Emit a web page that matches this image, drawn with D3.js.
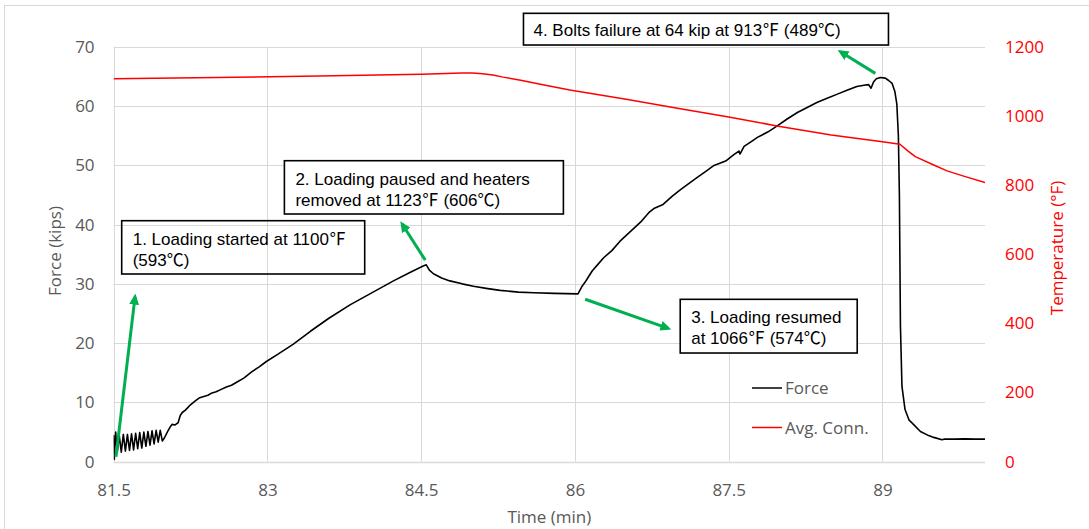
<!DOCTYPE html>
<html><head><meta charset="utf-8">
<script src="https://cdn.jsdelivr.net/npm/d3@7"></script>
<style>
html,body{margin:0;padding:0;background:#fff;}
svg{display:block;}
.tick-l,.ttl{font-family:"Open Sans","Noto Sans",sans-serif;}
.ann{font-family:"Liberation Sans",Arial,"Noto Sans CJK SC",sans-serif;font-size:17px;fill:#000;}
</style></head>
<body>
<svg id="chart" width="1089" height="529"></svg>
<script>
// ---- data ----
const forceTime = [81.500,81.507,81.520,81.535,81.555,81.575,81.595,81.615,81.635,81.655,81.675,81.695,81.715,81.735,81.755,81.775,81.795,81.815,81.835,81.855,81.875,81.895,81.915,81.935,81.955,81.975,81.995,
82.03,82.05,82.07,82.10,82.13,82.15,82.17,82.20,82.25,82.30,82.34,82.38,82.42,82.46,82.50,82.55,82.60,82.65,82.70,82.77,82.85,82.92,82.99,83.10,83.25,83.42,83.60,83.81,84.00,84.23,84.40,84.52,84.55,84.58,84.62,84.70,84.78,84.90,85.01,85.15,85.27,85.45,85.60,85.80,86.03,
86.07,86.10,86.14,86.17,86.22,86.28,86.36,86.44,86.54,86.64,86.72,86.77,86.86,86.95,87.03,87.11,87.19,87.27,87.35,87.47,87.55,87.60,87.61,87.65,87.72,87.78,87.88,87.97,88.07,88.17,88.27,88.36,88.46,88.56,88.66,88.75,88.82,88.865,88.888,88.914,88.94,88.979,89.028,89.06,89.094,89.12,89.14,89.155,89.165,89.175,89.19,89.22,89.26,89.29,89.37,89.45,89.50,89.58,89.60,89.70,89.80,89.90,90.00];
const forceKips = [4.5,0.4,5.0,1.5,4.4,1.6,4.6,1.8,4.6,1.9,4.7,2.0,4.8,2.2,4.9,2.3,5.0,2.6,5.1,2.8,5.2,3.0,5.3,3.3,5.3,3.5,4.0,
5.2,5.8,6.3,6.2,6.6,7.8,8.3,8.7,9.6,10.3,10.8,11.0,11.2,11.6,11.8,12.2,12.6,12.9,13.4,14.1,15.2,16.0,16.9,18.1,19.8,22.0,24.2,26.5,28.3,30.5,32.0,33.0,33.2,32.3,31.7,31.0,30.5,30.0,29.6,29.2,28.9,28.6,28.5,28.4,28.3,
29.6,30.3,31.4,32.2,33.2,34.4,35.6,37.2,38.8,40.4,42.0,42.7,43.4,44.8,45.9,46.9,47.9,48.9,49.9,50.7,51.8,52.4,51.9,53.2,54.0,54.7,55.6,56.6,57.8,58.9,59.8,60.6,61.3,62.0,62.7,63.3,63.5,63.6,63.0,64.1,64.6,64.8,64.7,64.3,63.8,62.5,60.3,55.0,45.0,23.0,12.7,8.8,7.0,6.5,5.1,4.4,4.1,3.7,3.8,3.8,3.85,3.8,3.8];

const tempTime = [81.5,82.5,83.5,84.5,84.9,85.0,85.1,85.2,85.3,85.47,85.7,85.95,86.5,87.0,87.5,87.97,88.5,89.0,89.17,89.25,89.32,89.5,89.63,89.8,90.0];
const tempF    = [1107,1111,1115,1120,1124,1124,1122,1118,1112,1103,1089,1075,1048,1022,997,971,945,925,918,898,882,858,841,825,807];

const xTicks = [81.5,83,84.5,86,87.5,89];
const yLeftTicks = [0,10,20,30,40,50,60,70];
const yRightTicks = [0,200,400,600,800,1000,1200];

const seriesNames = ["Force","Avg. Conn."];
const seriesColors = ["#000000","#FF0000"];

const annotations = [
  {t:81.579,f:40.65,w:243,h:53.3,fill:"none",lines:["1. Loading started at 1100℉","(593℃)"]},
  {t:83.166,f:50.77,w:279,h:53.3,fill:"#fff",lines:["2. Loading paused and heaters","removed at 1123℉ (606℃)"]},
  {t:87.027,f:27.39,w:177,h:53.7,fill:"#fff",lines:["3. Loading resumed","at 1066℉ (574℃)"]},
  {t:85.498,f:75.63,w:365,h:31.7,fill:"#fff",lines:["4. Bolts failure at 64 kip at 913℉ (489℃)"]}
];
const arrows = [
  {t0:81.523,f0:0.84,t1:81.709,f1:27.8},
  {t0:84.54,f0:34.0,t1:84.314,f1:40.1},
  {t0:86.10,f0:27.4,t1:86.91,f1:22.5},
  {t0:88.93,f0:65.5,t1:88.59,f1:69.15}
];

// ---- layout ----
const svg = d3.select("#chart");
const L = 113.6, R = 985, T = 46.7, B = 461.7;
const x = d3.scaleLinear().domain([81.5,90]).range([L,R]);
const yL = d3.scaleLinear().domain([0,70]).range([B,T]);
const yR = d3.scaleLinear().domain([0,1200]).range([B,T]);

svg.append("rect").attr("width",1089).attr("height",529).attr("fill","#fff");
svg.append("rect").attr("x",4.5).attr("y",5.5).attr("width",1200).attr("height",600)
  .attr("fill","none").attr("stroke","#d9d9d9").attr("stroke-width",1);

// gridlines
const grid = svg.append("g");
grid.selectAll("line.h").data(yLeftTicks).join("line")
  .attr("x1",L).attr("x2",R).attr("y1",d=>Math.round(yL(d))+0.5).attr("y2",d=>Math.round(yL(d))+0.5)
  .attr("stroke","#d9d9d9").attr("stroke-width",d=>d===0?1.5:1);
grid.selectAll("line.v").data(xTicks).join("line")
  .attr("x1",d=>Math.round(x(d))+0.5).attr("x2",d=>Math.round(x(d))+0.5).attr("y1",T).attr("y2",B)
  .attr("stroke","#d9d9d9").attr("stroke-width",1);

// axes via d3 axis generators
const axB = svg.append("g").attr("transform",`translate(0,${B})`)
  .call(d3.axisBottom(x).tickValues(xTicks).tickFormat(d=>d).tickSize(0).tickPadding(22));
const axL = svg.append("g").attr("transform",`translate(${L},0)`)
  .call(d3.axisLeft(yL).tickValues(yLeftTicks).tickFormat(d3.format("d")).tickSize(0).tickPadding(19));
const axR = svg.append("g").attr("transform",`translate(${R},0)`)
  .call(d3.axisRight(yR).tickValues(yRightTicks).tickFormat(d3.format("d")).tickSize(0).tickPadding(20));
[axB,axL,axR].forEach(a=>{a.select(".domain").remove();
  a.selectAll("text").attr("font-family","'Open Sans','Noto Sans',sans-serif").attr("font-size",17);});
axB.selectAll("text").attr("fill","#595959");
axL.selectAll("text").attr("fill","#595959");
axR.selectAll("text").attr("fill","#FF0000");

// titles
svg.append("text").attr("class","ttl").attr("x",(L+R)/2+0).attr("y",523).attr("text-anchor","middle")
  .attr("font-size",17).attr("fill","#595959").text("Time (min)");
svg.append("text").attr("class","ttl").attr("transform","translate(61,251) rotate(-90)").attr("text-anchor","middle")
  .attr("font-size",17).attr("fill","#595959").text("Force (kips)");
svg.append("text").attr("class","ttl").attr("transform","translate(1063,248) rotate(-90)").attr("text-anchor","middle")
  .attr("font-size",17).attr("fill","#FF0000").text("Temperature (°F)");

// annotation box 1 (transparent) under lines
const boxes = svg.append("g");
function drawBox(a,g){
  const bx = x(a.t), by = yL(a.f);
  g.append("rect").attr("x",bx).attr("y",by).attr("width",a.w).attr("height",a.h)
    .attr("fill",a.fill).attr("stroke","#000").attr("stroke-width",1.6);
  a.lines.forEach((s,i)=>{
    g.append("text").attr("class","ann").attr("x",bx+(a.lines.length>1?11:10)).attr("y",by+(a.lines.length>1?24+21*i:22.5)).text(s);
  });
}

// series
const clip = svg.append("defs").append("clipPath").attr("id","pc").append("rect")
  .attr("x",L).attr("y",T-5).attr("width",R-L).attr("height",B-T+10);
const lineF = d3.line().x((d,i)=>x(forceTime[i])).y(d=>yL(d));
const lineT = d3.line().x((d,i)=>x(tempTime[i])).y(d=>yR(d));
drawBox(annotations[0],boxes);
svg.append("path").attr("d",lineF(forceKips)).attr("fill","none").attr("stroke",seriesColors[0])
  .attr("stroke-width",1.6).attr("stroke-linejoin","round").attr("clip-path","url(#pc)");
svg.append("path").attr("d",lineT(tempF)).attr("fill","none").attr("stroke",seriesColors[1])
  .attr("stroke-width",1.5).attr("stroke-linejoin","round").attr("clip-path","url(#pc)");

// legend
const leg = svg.append("g");
[0,1].forEach(i=>{
  const ly = 388 + i*39.5;
  leg.append("line").attr("x1",752).attr("x2",782).attr("y1",ly).attr("y2",ly)
    .attr("stroke",seriesColors[i]).attr("stroke-width",1.5);
  leg.append("text").attr("x",785).attr("y",ly+6).attr("font-family","'Open Sans','Noto Sans',sans-serif")
    .attr("font-size",17).attr("fill","#595959").text(seriesNames[i]);
});

// other boxes
annotations.slice(1).forEach(a=>drawBox(a,svg.append("g")));

// arrows
svg.append("defs").append("marker").attr("id","ah").attr("viewBox","0 0 10 10")
  .attr("markerUnits","userSpaceOnUse").attr("markerWidth",11).attr("markerHeight",11)
  .attr("refX",7).attr("refY",5).attr("orient","auto")
  .append("path").attr("d","M0,0.5 L10,5 L0,9.5 Z").attr("fill","#00B050");
svg.append("g").selectAll("line").data(arrows).join("line")
  .attr("x1",d=>x(d.t0)).attr("y1",d=>yL(d.f0)).attr("x2",d=>x(d.t1)).attr("y2",d=>yL(d.f1))
  .attr("stroke","#00B050").attr("stroke-width",3).attr("marker-end","url(#ah)");
</script>
</body></html>
